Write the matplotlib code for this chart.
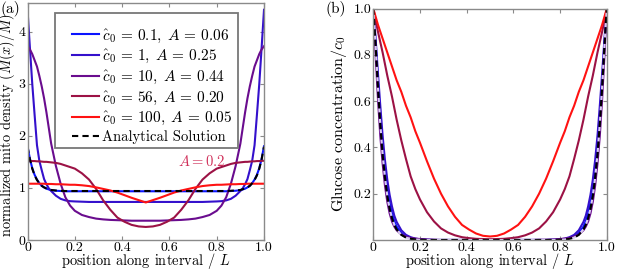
import matplotlib
matplotlib.use("Agg")
import matplotlib.pyplot as plt
from matplotlib.patches import Rectangle

plt.rcParams['font.family'] = 'serif'
plt.rcParams['font.serif'] = ['cmr10', 'DejaVu Serif']
plt.rcParams['mathtext.fontset'] = 'cm'
plt.rcParams['axes.unicode_minus'] = False
plt.rcParams['axes.formatter.use_mathtext'] = True

# ---------------- data ----------------
x = [0, .01, .02, .03, .04, .05, .06, .07, .08, .09, .10, .12, .14, .16, .18, .20,
     .23, .26, .29, .32, .35, .38, .41, .44, .47, .50,
     .53, .56, .59, .62, .65, .68, .71, .74, .77, .80, .82, .84, .86, .88, .90,
     .91, .92, .93, .94, .95, .96, .97, .98, .99, 1.0]

labels = [r'$\hat{c}_0\,=\,0.1,\; A\,=\,0.06$', r'$\hat{c}_0\,=\,1,\; A\,=\,0.25$',
          r'$\hat{c}_0\,=\,10,\; A\,=\,0.44$', r'$\hat{c}_0\,=\,56,\; A\,=\,0.20$',
          r'$\hat{c}_0\,=\,100,\; A\,=\,0.05$', 'Analytical Solution']

# panel (a): normalized mito density
mito_c01 = [1.80, 1.56, 1.38, 1.25, 1.16, 1.09, 1.04, 1.01, 0.985, 0.97, 0.955, 0.945, 0.94, 0.935, 0.935, 0.935,
            0.935, 0.935, 0.935, 0.935, 0.935, 0.935, 0.935, 0.935, 0.935, 0.935,
            0.935, 0.935, 0.935, 0.935, 0.935, 0.935, 0.935, 0.935, 0.935, 0.935, 0.935, 0.935, 0.94, 0.945, 0.955,
            0.97, 0.985, 1.01, 1.04, 1.09, 1.16, 1.25, 1.38, 1.56, 1.80]
mito_c1 = [4.42, 3.70, 3.00, 2.40, 1.82, 1.52, 1.34, 1.17, 1.07, 0.99, 0.94, 0.85, 0.79, 0.76, 0.745, 0.74,
           0.735, 0.73, 0.73, 0.73, 0.73, 0.73, 0.73, 0.73, 0.73, 0.73,
           0.73, 0.73, 0.73, 0.73, 0.73, 0.73, 0.73, 0.73, 0.735, 0.74, 0.745, 0.76, 0.79, 0.85, 0.94,
           0.99, 1.07, 1.17, 1.34, 1.52, 1.82, 2.40, 3.00, 3.70, 4.42]
mito_c10 = [3.72, 3.66, 3.57, 3.45, 3.33, 3.15, 2.95, 2.72, 2.45, 2.15, 1.85, 1.42, 1.08, 0.82, 0.66, 0.56,
            0.48, 0.44, 0.41, 0.395, 0.385, 0.38, 0.375, 0.37, 0.37, 0.37,
            0.37, 0.37, 0.375, 0.38, 0.385, 0.395, 0.41, 0.44, 0.48, 0.56, 0.66, 0.82, 1.08, 1.42, 1.85,
            2.15, 2.45, 2.72, 2.95, 3.15, 3.33, 3.45, 3.57, 3.66, 3.72]
mito_c56 = [1.52, 1.52, 1.515, 1.515, 1.51, 1.51, 1.505, 1.50, 1.50, 1.495, 1.49, 1.48, 1.46, 1.43, 1.40, 1.37,
            1.28, 1.16, 0.98, 0.76, 0.58, 0.43, 0.35, 0.29, 0.26, 0.25,
            0.26, 0.29, 0.35, 0.43, 0.58, 0.76, 0.98, 1.16, 1.28, 1.37, 1.40, 1.43, 1.46, 1.48, 1.49,
            1.495, 1.50, 1.50, 1.505, 1.51, 1.51, 1.515, 1.515, 1.52, 1.52]
mito_c100 = [1.08, 1.08, 1.08, 1.08, 1.08, 1.08, 1.08, 1.08, 1.075, 1.075, 1.075, 1.07, 1.07, 1.065, 1.06, 1.06,
             1.05, 1.035, 1.01, 0.98, 0.95, 0.91, 0.86, 0.81, 0.765, 0.72,
             0.765, 0.81, 0.86, 0.91, 0.95, 0.98, 1.01, 1.035, 1.05, 1.06, 1.06, 1.065, 1.07, 1.07, 1.075,
             1.075, 1.075, 1.08, 1.08, 1.08, 1.08, 1.08, 1.08, 1.08, 1.08]
mito_analytic = [1.79, 1.55, 1.37, 1.24, 1.15, 1.09, 1.04, 1.01, 0.99, 0.975, 0.96, 0.95, 0.945, 0.94, 0.94, 0.94,
                 0.94, 0.94, 0.94, 0.94, 0.94, 0.94, 0.94, 0.94, 0.94, 0.94,
                 0.94, 0.94, 0.94, 0.94, 0.94, 0.94, 0.94, 0.94, 0.94, 0.94, 0.94, 0.94, 0.945, 0.95, 0.96,
                 0.975, 0.99, 1.01, 1.04, 1.09, 1.15, 1.24, 1.37, 1.55, 1.79]

# panel (b): glucose concentration / c0
gluc_c01 = [1.0, 0.85, 0.68, 0.53, 0.40, 0.30, 0.22, 0.16, 0.115, 0.082, 0.058, 0.03, 0.015, 0.008, 0.004, 0.002,
            0.001, 0, 0, 0, 0, 0, 0, 0, 0, 0,
            0, 0, 0, 0, 0, 0, 0, 0, 0.001, 0.002, 0.004, 0.008, 0.015, 0.03, 0.058,
            0.082, 0.115, 0.16, 0.22, 0.30, 0.40, 0.53, 0.68, 0.85, 1.0]
gluc_c1 = [1.0, 0.87, 0.72, 0.58, 0.45, 0.345, 0.26, 0.195, 0.145, 0.105, 0.078, 0.042, 0.022, 0.012, 0.006, 0.003,
           0.001, 0, 0, 0, 0, 0, 0, 0, 0, 0,
           0, 0, 0, 0, 0, 0, 0, 0, 0.001, 0.003, 0.006, 0.012, 0.022, 0.042, 0.078,
           0.105, 0.145, 0.195, 0.26, 0.345, 0.45, 0.58, 0.72, 0.87, 1.0]
gluc_c10 = [1.0, 0.80, 0.61, 0.45, 0.33, 0.235, 0.165, 0.115, 0.08, 0.058, 0.042, 0.024, 0.014, 0.009, 0.006, 0.004,
            0.002, 0.001, 0, 0, 0, 0, 0, 0, 0, 0,
            0, 0, 0, 0, 0, 0, 0.001, 0.001, 0.002, 0.004, 0.006, 0.009, 0.014, 0.024, 0.042,
            0.058, 0.08, 0.115, 0.165, 0.235, 0.33, 0.45, 0.61, 0.80, 1.0]
gluc_c56 = [1.0, 0.95, 0.90, 0.855, 0.81, 0.76, 0.71, 0.665, 0.62, 0.57, 0.52, 0.43, 0.35, 0.275, 0.22, 0.175,
            0.12, 0.08, 0.05, 0.032, 0.02, 0.012, 0.008, 0.005, 0.004, 0.003,
            0.004, 0.005, 0.008, 0.012, 0.02, 0.032, 0.05, 0.08, 0.12, 0.175, 0.22, 0.275, 0.35, 0.43, 0.52,
            0.57, 0.62, 0.665, 0.71, 0.76, 0.81, 0.855, 0.90, 0.95, 1.0]
gluc_c100 = [1.0, 0.965, 0.93, 0.90, 0.87, 0.84, 0.81, 0.78, 0.75, 0.72, 0.69, 0.64, 0.58, 0.53, 0.47, 0.42,
             0.34, 0.265, 0.20, 0.145, 0.10, 0.065, 0.045, 0.028, 0.018, 0.015,
             0.018, 0.028, 0.045, 0.065, 0.10, 0.145, 0.20, 0.265, 0.34, 0.42, 0.47, 0.53, 0.58, 0.64, 0.69,
             0.72, 0.75, 0.78, 0.81, 0.84, 0.87, 0.90, 0.93, 0.965, 1.0]
gluc_analytic = [1.0, 0.84, 0.66, 0.50, 0.37, 0.27, 0.19, 0.135, 0.095, 0.066, 0.046, 0.022, 0.01, 0.005, 0.002, 0.001,
                 0, 0, 0, 0, 0, 0, 0, 0, 0, 0,
                 0, 0, 0, 0, 0, 0, 0, 0, 0, 0.001, 0.002, 0.005, 0.01, 0.022, 0.046,
                 0.066, 0.095, 0.135, 0.19, 0.27, 0.37, 0.50, 0.66, 0.84, 1.0]

xticks = [0, 0.2, 0.4, 0.6, 0.8, 1.0]
xticklabels = ['0', '0.2', '0.4', '0.6', '0.8', '1.0']
a_yticks = [0, 1, 2, 3, 4]
b_yticks = [0.2, 0.4, 0.6, 0.8, 1.0]
b_yticklabels = ['0.2', '0.4', '0.6', '0.8', '1.0']

colors = ['#0a14ff', '#3410cc', '#6a0c8e', '#9c1245', '#ff1212']
spine_col = '#8a8a8a'

fig = plt.figure(figsize=(6.17, 2.71), dpi=100)
axA = fig.add_axes([0.0446, 0.1145, 0.3833, 0.8745])
axB = fig.add_axes([0.605, 0.1145, 0.3785, 0.854])

def style(ax):
    for s in ax.spines.values():
        s.set_color(spine_col)
        s.set_linewidth(1.0)
    ax.tick_params(direction='in', top=True, right=True, length=3, width=0.8,
                   color=spine_col, labelsize=10, pad=1.5)

lw = 1.5
mito = [mito_c01, mito_c1, mito_c10, mito_c56, mito_c100]
for ys, c, lab in zip(mito, colors, labels[:5]):
    axA.plot(x, ys, color=c, lw=lw, label=lab)
axA.plot(x, mito_analytic, color='black', lw=lw, ls=(0, (3, 2)), label=labels[5])
axA.set_xlim(0, 1)
axA.set_ylim(0, 4.55)
axA.set_xticks(xticks)
axA.set_xticklabels(xticklabels)
axA.set_yticks(a_yticks)
axA.set_yticklabels([str(v) for v in a_yticks])
style(axA)
axA.set_xlabel(r'position along interval / $L$', fontsize=10.4, labelpad=-2.5)
axA.set_ylabel(r'normalized mito density $(M(x)/\overline{M})$', fontsize=10.4)
axA.yaxis.set_label_coords(-0.039, 0.485)
axA.text(0.735, 1.51, r'$A = 0.2$', color='#d0305a', fontsize=10.5, ha='center', va='center')

# legend: manual frame + frameless legend
axA.add_patch(Rectangle((0.116, 0.389), 0.774, 0.569, transform=axA.transAxes,
                        facecolor='white', edgecolor='#777777', lw=1.3, zorder=4))
leg = axA.legend(loc='upper left', bbox_to_anchor=(0.188, 0.897), borderaxespad=0,
                 frameon=False, fontsize=11, handlelength=1.8, handletextpad=0.15,
                 labelspacing=0.2, borderpad=0)
leg.get_texts()[5].set_fontsize(10.5)
leg.set_zorder(5)

gluc = [gluc_c01, gluc_c1, gluc_c10, gluc_c56, gluc_c100]
for ys, c in zip(gluc, colors):
    axB.plot(x, ys, color=c, lw=lw)
axB.plot(x, gluc_analytic, color='black', lw=lw, ls=(0, (3, 2)), gapcolor='#d8ccf0')
axB.set_xlim(0, 1)
axB.set_ylim(0, 1)
axB.set_xticks(xticks)
axB.set_xticklabels(xticklabels)
axB.set_yticks(b_yticks)
axB.set_yticklabels(b_yticklabels)
style(axB)
axB.set_xlabel(r'position along interval / $L$', fontsize=10.4, labelpad=-2.5)
axB.set_ylabel(r'Glucose concentration/$c_0$', fontsize=11.5)
axB.yaxis.set_label_coords(-0.105, 0.5)

fig.text(0.0, 0.998, '(a)', fontsize=11, ha='left', va='top')
fig.text(0.528, 0.998, '(b)', fontsize=11, ha='left', va='top')

fig.savefig('out.png', dpi=100)
